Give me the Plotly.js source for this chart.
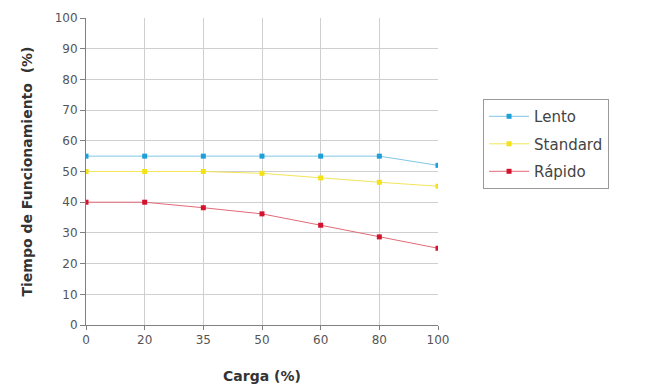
<!DOCTYPE html>
<html>
<head>
<meta charset="utf-8">
<script src="https://cdn.plot.ly/plotly-3.0.1.min.js"></script>
<style>html,body{margin:0;padding:0;background:#fff;}#chart{width:650px;height:391px;}</style>
</head>
<body>
<div id="chart"></div>
<script>
const carga = ["0", "20", "35", "50", "60", "80", "100"];
const lento = [55, 55, 55, 55, 55, 55, 52];
const standard = [50, 50, 50, 49.4, 47.9, 46.5, 45.2];
const rapido = [40, 40, 38.2, 36.2, 32.5, 28.7, 25];
const seriesNames = ["Lento", "Standard", "Rápido"];
const markerColors = ["#1f9fd8", "#f3e21a", "#d3122e"];
const lineColors = ["#7fc6e8", "#f2e55a", "#e36a79"];
const yTicks = [0, 10, 20, 30, 40, 50, 60, 70, 80, 90, 100];

const allValues = [lento, standard, rapido];
const traces = allValues.map((v, i) => ({
  x: carga, y: v, name: seriesNames[i], type: "scatter", mode: "lines+markers",
  legendgroup: "g" + i,
  line: {color: lineColors[i], width: 1},
  marker: {color: markerColors[i], size: 5, symbol: "square"}
}));

const tickFont = {family: "DejaVu Sans, Verdana, sans-serif", size: 12, color: "#555"};
const layout = {
  width: 650, height: 391,
  margin: {l: 86, r: 212, t: 18, b: 66},
  paper_bgcolor: "#fff", plot_bgcolor: "#fff",
  showlegend: true,
  legend: {
    x: 1.128, y: 0.736, xanchor: "left", yanchor: "top",
    bordercolor: "#999", borderwidth: 1, bgcolor: "#fff",
    font: {family: "DejaVu Sans, Verdana, sans-serif", size: 15, color: "#444"},
    tracegroupgap: 5, itemwidth: 40,
    entrywidth: 112, entrywidthmode: "pixels"
  },
  xaxis: {
    type: "category", range: [0, 6], categoryorder: "array", categoryarray: carga,
    showgrid: true, gridcolor: "#cfcfcf", gridwidth: 1,
    showline: true, linecolor: "#808080", linewidth: 1,
    ticks: "outside", ticklen: 4, tickcolor: "#808080",
    tickfont: tickFont, zeroline: false,
    title: {text: "<b>Carga (%)</b>", font: {family: "DejaVu Sans, Verdana, sans-serif", size: 14, color: "#333"}, standoff: 24}
  },
  yaxis: {
    range: [0, 100], tickvals: yTicks, ticktext: yTicks.map(String),
    showgrid: true, gridcolor: "#cfcfcf", gridwidth: 1,
    showline: true, linecolor: "#808080", linewidth: 1,
    ticks: "outside", ticklen: 5, tickcolor: "#808080",
    tickfont: tickFont, zeroline: false,
    title: {text: "<b>Tiempo de Funcionamiento  (%)</b>", font: {family: "DejaVu Sans, Verdana, sans-serif", size: 14, color: "#333"}, standoff: 18}
  }
};
Plotly.newPlot("chart", traces, layout, {displayModeBar: false, staticPlot: true});
</script>
</body>
</html>
